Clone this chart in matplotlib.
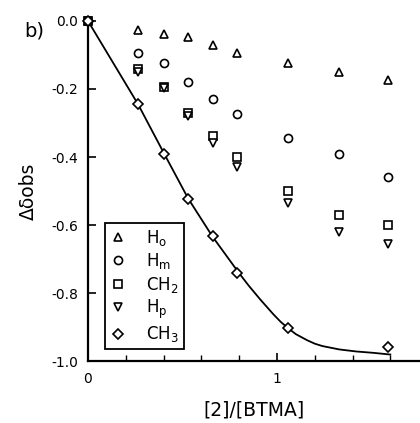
import numpy as np
import matplotlib
matplotlib.use("Agg")
import matplotlib.pyplot as plt
from matplotlib.ticker import FixedLocator

plt.rcParams['font.family'] = ['DejaVu Sans']
plt.rcParams['mathtext.fontset'] = 'dejavusans'

# ratio [2]/[BTMA]
ratio = [0.0, 0.265, 0.40, 0.53, 0.66, 0.79, 1.06, 1.33, 1.59]

# observed shifts per proton
d_Ho = [0.0, -0.026, -0.038, -0.047, -0.070, -0.094, -0.124, -0.150, -0.174]
d_Hm = [0.0, -0.094, -0.124, -0.180, -0.230, -0.274, -0.344, -0.390, -0.460]
d_CH2 = [0.0, -0.140, -0.195, -0.270, -0.338, -0.400, -0.500, -0.570, -0.600]
d_Hp = [0.0, -0.150, -0.197, -0.280, -0.360, -0.430, -0.535, -0.620, -0.656]
d_CH3 = [0.0, -0.244, -0.390, -0.524, -0.632, -0.741, -0.903, np.nan, -0.959]

# fitted curve for CH3
fit_x = [0.0, 0.265, 0.40, 0.53, 0.66, 0.80, 0.85, 0.91, 0.98, 1.02, 1.06, 1.10,
         1.16, 1.20, 1.24, 1.33, 1.42, 1.51, 1.60]
fit_y = [0.0, -0.245, -0.387, -0.522, -0.635, -0.742, -0.778, -0.818, -0.862, -0.885,
         -0.904, -0.921, -0.939, -0.949, -0.956, -0.966, -0.972, -0.976, -0.981]

y_ticks = [0.0, -0.2, -0.4, -0.6, -0.8, -1.0]
y_ticklabels = ['0.0', '-0.2', '-0.4', '-0.6', '-0.8', '-1.0']

series = [
    (d_Ho, '^', r'H$_{\rm o}$'),
    (d_Hm, 'o', r'H$_{\rm m}$'),
    (d_CH2, 's', r'CH$_{\rm 2}$'),
    (d_Hp, 'v', r'H$_{\rm p}$'),
    (d_CH3, 'D', r'CH$_{\rm 3}$'),
]

fig = plt.figure(figsize=(4.2, 4.23), dpi=100)
ax = fig.add_axes([88 / 420, 1 - 361 / 423, 1 - 88 / 420, 340 / 423])

ax.plot(fit_x, fit_y, color='black', linewidth=1.3, zorder=2)

for vals, mk, lab in series:
    ms = 5.0 if mk == 'D' else 5.8
    ax.plot(ratio, vals, linestyle='none', marker=mk, markersize=ms,
            markerfacecolor='white', markeredgecolor='black', markeredgewidth=1.2,
            label=lab, clip_on=False, zorder=3)

ax.set_xlim(0, 1.757)
ax.set_ylim(-1.0, 0.0)

ax.spines['top'].set_visible(False)
ax.spines['right'].set_visible(False)
ax.spines['left'].set_linewidth(1.6)
ax.spines['bottom'].set_linewidth(1.6)

ax.xaxis.set_major_locator(FixedLocator([0, 1]))
ax.xaxis.set_minor_locator(FixedLocator([0.2, 0.4, 0.6, 0.8, 1.2, 1.4, 1.6]))
ax.set_xticklabels(['0', '1'])
ax.set_yticks(y_ticks)
ax.set_yticklabels(y_ticklabels)
ax.tick_params(axis='both', which='major', direction='in', length=6, width=1.2,
               labelsize=10, pad=7)
ax.tick_params(axis='x', which='minor', direction='in', length=4, width=1.0)
ax.tick_params(axis='x', which='major', pad=8)

ax.set_xlabel('[2]/[BTMA]', fontsize=13.5, labelpad=10)
ax.set_ylabel('Δδobs', fontsize=13.5, labelpad=10)

fig.text(24 / 420, 1 - 31 / 423, 'b)', fontsize=14, va='center', ha='left')

leg = ax.legend(loc='upper left', bbox_to_anchor=(0.05, 0.406), frameon=True,
                fancybox=False, edgecolor='black', framealpha=1, numpoints=1,
                fontsize=12, handlelength=1.0, handletextpad=1.2,
                labelspacing=0.2, borderpad=0.3, borderaxespad=0)
leg.get_frame().set_linewidth(1.3)

fig.savefig('out.png', dpi=100)
